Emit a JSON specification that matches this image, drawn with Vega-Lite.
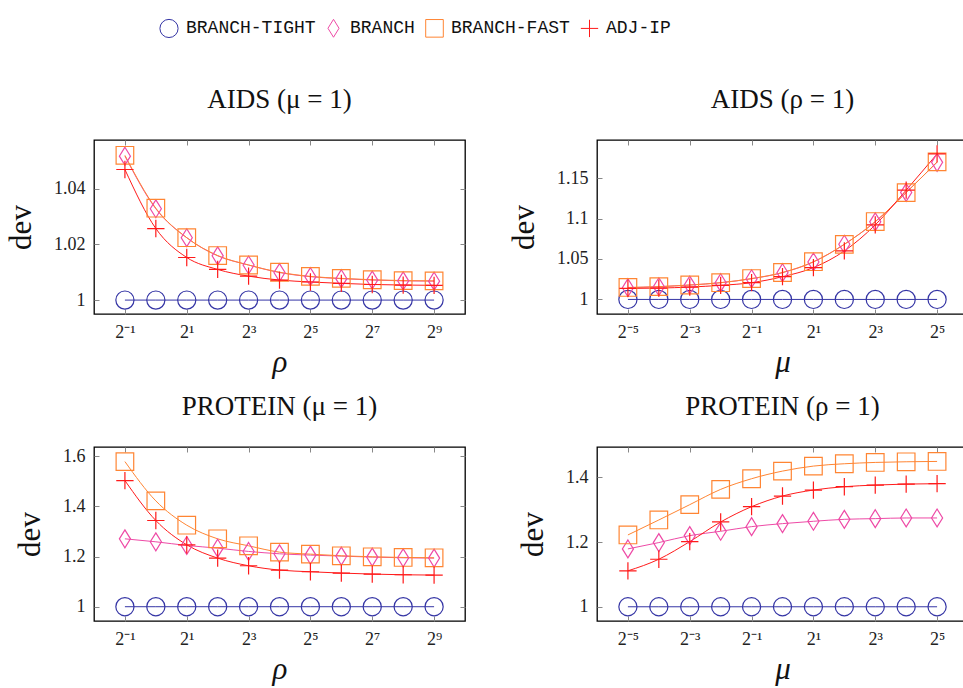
{
  "$schema": "https://vega.github.io/schema/vega-lite/v6.json",
  "padding": {"left": 4, "top": 18, "right": 5, "bottom": 5},
  "background": "white",
  "bounds": "flush",
  "columns": 2,
  "spacing": {"row": 133, "column": 132},
  "datasets": {
    "d": [
      {"panel":"am","series":"BRANCH-TIGHT","x":0.5,"y":1},{"panel":"am","series":"BRANCH-TIGHT","x":1,"y":1},{"panel":"am","series":"BRANCH-TIGHT","x":2,"y":1},{"panel":"am","series":"BRANCH-TIGHT","x":4,"y":1},{"panel":"am","series":"BRANCH-TIGHT","x":8,"y":1},{"panel":"am","series":"BRANCH-TIGHT","x":16,"y":1},{"panel":"am","series":"BRANCH-TIGHT","x":32,"y":1},{"panel":"am","series":"BRANCH-TIGHT","x":64,"y":1},{"panel":"am","series":"BRANCH-TIGHT","x":128,"y":1},{"panel":"am","series":"BRANCH-TIGHT","x":256,"y":1},{"panel":"am","series":"BRANCH-TIGHT","x":512,"y":1},
      {"panel":"am","series":"BRANCH","x":0.5,"y":1.0517},{"panel":"am","series":"BRANCH","x":1,"y":1.0328},{"panel":"am","series":"BRANCH","x":2,"y":1.0224},{"panel":"am","series":"BRANCH","x":4,"y":1.0159},{"panel":"am","series":"BRANCH","x":8,"y":1.0126},{"panel":"am","series":"BRANCH","x":16,"y":1.0099},{"panel":"am","series":"BRANCH","x":32,"y":1.0084},{"panel":"am","series":"BRANCH","x":64,"y":1.0077},{"panel":"am","series":"BRANCH","x":128,"y":1.0072},{"panel":"am","series":"BRANCH","x":256,"y":1.0069},{"panel":"am","series":"BRANCH","x":512,"y":1.0068},
      {"panel":"am","series":"BRANCH-FAST","x":0.5,"y":1.052},{"panel":"am","series":"BRANCH-FAST","x":1,"y":1.033},{"panel":"am","series":"BRANCH-FAST","x":2,"y":1.0224},{"panel":"am","series":"BRANCH-FAST","x":4,"y":1.016},{"panel":"am","series":"BRANCH-FAST","x":8,"y":1.0126},{"panel":"am","series":"BRANCH-FAST","x":16,"y":1.01},{"panel":"am","series":"BRANCH-FAST","x":32,"y":1.0085},{"panel":"am","series":"BRANCH-FAST","x":64,"y":1.0078},{"panel":"am","series":"BRANCH-FAST","x":128,"y":1.0073},{"panel":"am","series":"BRANCH-FAST","x":256,"y":1.007},{"panel":"am","series":"BRANCH-FAST","x":512,"y":1.0069},
      {"panel":"am","series":"ADJ-IP","x":0.5,"y":1.0469},{"panel":"am","series":"ADJ-IP","x":1,"y":1.0257},{"panel":"am","series":"ADJ-IP","x":2,"y":1.0153},{"panel":"am","series":"ADJ-IP","x":4,"y":1.011},{"panel":"am","series":"ADJ-IP","x":8,"y":1.0086},{"panel":"am","series":"ADJ-IP","x":16,"y":1.0072},{"panel":"am","series":"ADJ-IP","x":32,"y":1.0065},{"panel":"am","series":"ADJ-IP","x":64,"y":1.006},{"panel":"am","series":"ADJ-IP","x":128,"y":1.0056},{"panel":"am","series":"ADJ-IP","x":256,"y":1.0054},{"panel":"am","series":"ADJ-IP","x":512,"y":1.0053},

      {"panel":"ar","series":"BRANCH-TIGHT","x":0.03125,"y":1},{"panel":"ar","series":"BRANCH-TIGHT","x":0.0625,"y":1},{"panel":"ar","series":"BRANCH-TIGHT","x":0.125,"y":1},{"panel":"ar","series":"BRANCH-TIGHT","x":0.25,"y":1},{"panel":"ar","series":"BRANCH-TIGHT","x":0.5,"y":1},{"panel":"ar","series":"BRANCH-TIGHT","x":1,"y":1},{"panel":"ar","series":"BRANCH-TIGHT","x":2,"y":1},{"panel":"ar","series":"BRANCH-TIGHT","x":4,"y":1},{"panel":"ar","series":"BRANCH-TIGHT","x":8,"y":1},{"panel":"ar","series":"BRANCH-TIGHT","x":16,"y":1},{"panel":"ar","series":"BRANCH-TIGHT","x":32,"y":1},
      {"panel":"ar","series":"BRANCH","x":0.03125,"y":1.0145},{"panel":"ar","series":"BRANCH","x":0.0625,"y":1.0157},{"panel":"ar","series":"BRANCH","x":0.125,"y":1.0178},{"panel":"ar","series":"BRANCH","x":0.25,"y":1.0207},{"panel":"ar","series":"BRANCH","x":0.5,"y":1.0256},{"panel":"ar","series":"BRANCH","x":1,"y":1.0331},{"panel":"ar","series":"BRANCH","x":2,"y":1.0463},{"panel":"ar","series":"BRANCH","x":4,"y":1.0682},{"panel":"ar","series":"BRANCH","x":8,"y":1.0959},{"panel":"ar","series":"BRANCH","x":16,"y":1.1322},{"panel":"ar","series":"BRANCH","x":32,"y":1.1694},
      {"panel":"ar","series":"BRANCH-FAST","x":0.03125,"y":1.0148},{"panel":"ar","series":"BRANCH-FAST","x":0.0625,"y":1.0158},{"panel":"ar","series":"BRANCH-FAST","x":0.125,"y":1.0178},{"panel":"ar","series":"BRANCH-FAST","x":0.25,"y":1.0207},{"panel":"ar","series":"BRANCH-FAST","x":0.5,"y":1.0258},{"panel":"ar","series":"BRANCH-FAST","x":1,"y":1.0333},{"panel":"ar","series":"BRANCH-FAST","x":2,"y":1.0466},{"panel":"ar","series":"BRANCH-FAST","x":4,"y":1.068},{"panel":"ar","series":"BRANCH-FAST","x":8,"y":1.0962},{"panel":"ar","series":"BRANCH-FAST","x":16,"y":1.132},{"panel":"ar","series":"BRANCH-FAST","x":32,"y":1.17},
      {"panel":"ar","series":"ADJ-IP","x":0.03125,"y":1.0136},{"panel":"ar","series":"ADJ-IP","x":0.0625,"y":1.014},{"panel":"ar","series":"ADJ-IP","x":0.125,"y":1.0153},{"panel":"ar","series":"ADJ-IP","x":0.25,"y":1.0174},{"panel":"ar","series":"ADJ-IP","x":0.5,"y":1.0207},{"panel":"ar","series":"ADJ-IP","x":1,"y":1.0281},{"panel":"ar","series":"ADJ-IP","x":2,"y":1.0393},{"panel":"ar","series":"ADJ-IP","x":4,"y":1.0599},{"panel":"ar","series":"ADJ-IP","x":8,"y":1.0921},{"panel":"ar","series":"ADJ-IP","x":16,"y":1.1351},{"panel":"ar","series":"ADJ-IP","x":32,"y":1.1798},

      {"panel":"pm","series":"BRANCH-TIGHT","x":0.5,"y":1},{"panel":"pm","series":"BRANCH-TIGHT","x":1,"y":1},{"panel":"pm","series":"BRANCH-TIGHT","x":2,"y":1},{"panel":"pm","series":"BRANCH-TIGHT","x":4,"y":1},{"panel":"pm","series":"BRANCH-TIGHT","x":8,"y":1},{"panel":"pm","series":"BRANCH-TIGHT","x":16,"y":1},{"panel":"pm","series":"BRANCH-TIGHT","x":32,"y":1},{"panel":"pm","series":"BRANCH-TIGHT","x":64,"y":1},{"panel":"pm","series":"BRANCH-TIGHT","x":128,"y":1},{"panel":"pm","series":"BRANCH-TIGHT","x":256,"y":1},{"panel":"pm","series":"BRANCH-TIGHT","x":512,"y":1},
      {"panel":"pm","series":"BRANCH","x":0.5,"y":1.2708},{"panel":"pm","series":"BRANCH","x":1,"y":1.2589},{"panel":"pm","series":"BRANCH","x":2,"y":1.2443},{"panel":"pm","series":"BRANCH","x":4,"y":1.2336},{"panel":"pm","series":"BRANCH","x":8,"y":1.2204},{"panel":"pm","series":"BRANCH","x":16,"y":1.2111},{"panel":"pm","series":"BRANCH","x":32,"y":1.2058},{"panel":"pm","series":"BRANCH","x":64,"y":1.2018},{"panel":"pm","series":"BRANCH","x":128,"y":1.1978},{"panel":"pm","series":"BRANCH","x":256,"y":1.1951},{"panel":"pm","series":"BRANCH","x":512,"y":1.1938},
      {"panel":"pm","series":"BRANCH-FAST","x":0.5,"y":1.5788},{"panel":"pm","series":"BRANCH-FAST","x":1,"y":1.4221},{"panel":"pm","series":"BRANCH-FAST","x":2,"y":1.3252},{"panel":"pm","series":"BRANCH-FAST","x":4,"y":1.2708},{"panel":"pm","series":"BRANCH-FAST","x":8,"y":1.2429},{"panel":"pm","series":"BRANCH-FAST","x":16,"y":1.2177},{"panel":"pm","series":"BRANCH-FAST","x":32,"y":1.2097},{"panel":"pm","series":"BRANCH-FAST","x":64,"y":1.2031},{"panel":"pm","series":"BRANCH-FAST","x":128,"y":1.1991},{"panel":"pm","series":"BRANCH-FAST","x":256,"y":1.1965},{"panel":"pm","series":"BRANCH-FAST","x":512,"y":1.1951},
      {"panel":"pm","series":"ADJ-IP","x":0.5,"y":1.5031},{"panel":"pm","series":"ADJ-IP","x":1,"y":1.3438},{"panel":"pm","series":"ADJ-IP","x":2,"y":1.2469},{"panel":"pm","series":"ADJ-IP","x":4,"y":1.1938},{"panel":"pm","series":"ADJ-IP","x":8,"y":1.1633},{"panel":"pm","series":"ADJ-IP","x":16,"y":1.146},{"panel":"pm","series":"ADJ-IP","x":32,"y":1.1394},{"panel":"pm","series":"ADJ-IP","x":64,"y":1.1341},{"panel":"pm","series":"ADJ-IP","x":128,"y":1.1301},{"panel":"pm","series":"ADJ-IP","x":256,"y":1.1274},{"panel":"pm","series":"ADJ-IP","x":512,"y":1.1261},

      {"panel":"pr","series":"BRANCH-TIGHT","x":0.03125,"y":1},{"panel":"pr","series":"BRANCH-TIGHT","x":0.0625,"y":1},{"panel":"pr","series":"BRANCH-TIGHT","x":0.125,"y":1},{"panel":"pr","series":"BRANCH-TIGHT","x":0.25,"y":1},{"panel":"pr","series":"BRANCH-TIGHT","x":0.5,"y":1},{"panel":"pr","series":"BRANCH-TIGHT","x":1,"y":1},{"panel":"pr","series":"BRANCH-TIGHT","x":2,"y":1},{"panel":"pr","series":"BRANCH-TIGHT","x":4,"y":1},{"panel":"pr","series":"BRANCH-TIGHT","x":8,"y":1},{"panel":"pr","series":"BRANCH-TIGHT","x":16,"y":1},{"panel":"pr","series":"BRANCH-TIGHT","x":32,"y":1},
      {"panel":"pr","series":"BRANCH","x":0.03125,"y":1.1789},{"panel":"pr","series":"BRANCH","x":0.0625,"y":1.1985},{"panel":"pr","series":"BRANCH","x":0.125,"y":1.2201},{"panel":"pr","series":"BRANCH","x":0.25,"y":1.2334},{"panel":"pr","series":"BRANCH","x":0.5,"y":1.2478},{"panel":"pr","series":"BRANCH","x":1,"y":1.2571},{"panel":"pr","series":"BRANCH","x":2,"y":1.2643},{"panel":"pr","series":"BRANCH","x":4,"y":1.2704},{"panel":"pr","series":"BRANCH","x":8,"y":1.2725},{"panel":"pr","series":"BRANCH","x":16,"y":1.2746},{"panel":"pr","series":"BRANCH","x":32,"y":1.2746},
      {"panel":"pr","series":"BRANCH-FAST","x":0.03125,"y":1.2221},{"panel":"pr","series":"BRANCH-FAST","x":0.0625,"y":1.2684},{"panel":"pr","series":"BRANCH-FAST","x":0.125,"y":1.3157},{"panel":"pr","series":"BRANCH-FAST","x":0.25,"y":1.363},{"panel":"pr","series":"BRANCH-FAST","x":0.5,"y":1.3959},{"panel":"pr","series":"BRANCH-FAST","x":1,"y":1.4195},{"panel":"pr","series":"BRANCH-FAST","x":2,"y":1.435},{"panel":"pr","series":"BRANCH-FAST","x":4,"y":1.4422},{"panel":"pr","series":"BRANCH-FAST","x":8,"y":1.4463},{"panel":"pr","series":"BRANCH-FAST","x":16,"y":1.4483},{"panel":"pr","series":"BRANCH-FAST","x":32,"y":1.4494},
      {"panel":"pr","series":"ADJ-IP","x":0.03125,"y":1.1111},{"panel":"pr","series":"ADJ-IP","x":0.0625,"y":1.147},{"panel":"pr","series":"ADJ-IP","x":0.125,"y":1.2015},{"panel":"pr","series":"ADJ-IP","x":0.25,"y":1.2622},{"panel":"pr","series":"ADJ-IP","x":0.5,"y":1.3095},{"panel":"pr","series":"ADJ-IP","x":1,"y":1.3424},{"panel":"pr","series":"ADJ-IP","x":2,"y":1.3609},{"panel":"pr","series":"ADJ-IP","x":4,"y":1.3712},{"panel":"pr","series":"ADJ-IP","x":8,"y":1.3763},{"panel":"pr","series":"ADJ-IP","x":16,"y":1.3794},{"panel":"pr","series":"ADJ-IP","x":32,"y":1.3805}
    ]
  },
  "data": {"name": "d"},
  "concat": [
    {
      "title": "AIDS (μ = 1)",
      "width": 371, "height": 174,
      "transform": [{"filter": "datum.panel == 'am'"}],
      "layer": [
        {"mark": {"type": "line", "interpolate": "monotone", "strokeWidth": 1},
         "encoding": {
           "x": {"field": "x", "type": "quantitative", "scale": {"type": "log", "base": 2, "domain": [0.25, 1024], "nice": false}, "axis": {"values": [0.5, 2, 8, 32, 128, 512], "title": "ρ", "labelExpr": "datum.value < 0.04 ? '2⁻⁵' : datum.value < 0.2 ? '2⁻³' : datum.value < 0.7 ? '2⁻¹' : datum.value < 3 ? '2¹' : datum.value < 10 ? '2³' : datum.value < 40 ? '2⁵' : datum.value < 200 ? '2⁷' : '2⁹'"}},
           "y": {"field": "y", "type": "quantitative", "scale": {"domain": [0.995, 1.0575], "nice": false, "zero": false}, "axis": {"values": [1, 1.02, 1.04], "format": "~g", "title": "dev"}},
           "color": {"field": "series", "type": "nominal", "scale": {"domain": ["BRANCH-TIGHT", "BRANCH", "BRANCH-FAST", "ADJ-IP"], "range": ["#3535a5", "#ee4aa6", "#ff8533", "#ff1a1a"]}}
         }},
        {"mark": {"type": "point", "filled": false, "strokeWidth": 1.2, "opacity": 1},
         "encoding": {
           "x": {"field": "x", "type": "quantitative", "axis": null},
           "y": {"field": "y", "type": "quantitative", "axis": null},
           "color": {"field": "series", "type": "nominal", "legend": {"orient": "none", "legendX": 65, "legendY": -122, "direction": "horizontal", "title": null}},
           "shape": {"field": "series", "type": "nominal", "scale": {"domain": ["BRANCH-TIGHT", "BRANCH", "BRANCH-FAST", "ADJ-IP"], "range": ["circle", "M0,-1L0.62,0L0,1L-0.62,0Z", "square", "M-1,0H1M0,-1V1"]}, "legend": {"orient": "none", "legendX": 65, "legendY": -122, "direction": "horizontal", "title": null}},
           "size": {"field": "series", "type": "nominal", "scale": {"domain": ["BRANCH-TIGHT", "BRANCH", "BRANCH-FAST", "ADJ-IP"], "range": [330, 300, 290, 190]}, "legend": null}
         }},
        {"mark": {"type": "point", "opacity": 0},
         "encoding": {
           "x": {"field": "x", "type": "quantitative", "axis": {"orient": "top", "values": [0.5, 2, 8, 32, 128, 512], "labels": false, "title": null}},
           "y": {"field": "y", "type": "quantitative", "axis": {"orient": "right", "values": [1, 1.02, 1.04], "labels": false, "title": null}}
         }}
      ],
      "resolve": {"axis": {"x": "independent", "y": "independent"}}
    },
    {
      "title": "AIDS (ρ = 1)",
      "width": 371, "height": 174,
      "transform": [{"filter": "datum.panel == 'ar'"}],
      "layer": [
        {"mark": {"type": "line", "interpolate": "monotone", "strokeWidth": 1},
         "encoding": {
           "x": {"field": "x", "type": "quantitative", "scale": {"type": "log", "base": 2, "domain": [0.015625, 64], "nice": false}, "axis": {"values": [0.03125, 0.125, 0.5, 2, 8, 32], "title": "μ", "labelExpr": "datum.value < 0.04 ? '2⁻⁵' : datum.value < 0.2 ? '2⁻³' : datum.value < 0.7 ? '2⁻¹' : datum.value < 3 ? '2¹' : datum.value < 10 ? '2³' : datum.value < 40 ? '2⁵' : datum.value < 200 ? '2⁷' : '2⁹'"}},
           "y": {"field": "y", "type": "quantitative", "scale": {"domain": [0.982, 1.197], "nice": false, "zero": false}, "axis": {"values": [1, 1.05, 1.1, 1.15], "format": "~g", "title": "dev"}},
           "color": {"field": "series", "type": "nominal"}
         }},
        {"mark": {"type": "point", "filled": false, "strokeWidth": 1.2, "opacity": 1},
         "encoding": {
           "x": {"field": "x", "type": "quantitative", "axis": null},
           "y": {"field": "y", "type": "quantitative", "axis": null},
           "color": {"field": "series", "type": "nominal", "legend": {"orient": "none", "legendX": 65, "legendY": -122, "direction": "horizontal", "title": null}},
           "shape": {"field": "series", "type": "nominal", "legend": {"orient": "none", "legendX": 65, "legendY": -122, "direction": "horizontal", "title": null}},
           "size": {"field": "series", "type": "nominal", "legend": null}
         }},
        {"mark": {"type": "point", "opacity": 0},
         "encoding": {
           "x": {"field": "x", "type": "quantitative", "axis": {"orient": "top", "values": [0.03125, 0.125, 0.5, 2, 8, 32], "labels": false, "title": null}},
           "y": {"field": "y", "type": "quantitative", "axis": {"orient": "right", "values": [1, 1.05, 1.1, 1.15], "labels": false, "title": null}}
         }}
      ],
      "resolve": {"axis": {"x": "independent", "y": "independent"}}
    },
    {
      "title": "PROTEIN (μ = 1)",
      "width": 371, "height": 174,
      "transform": [{"filter": "datum.panel == 'pm'"}],
      "layer": [
        {"mark": {"type": "line", "interpolate": "monotone", "strokeWidth": 1},
         "encoding": {
           "x": {"field": "x", "type": "quantitative", "scale": {"type": "log", "base": 2, "domain": [0.25, 1024], "nice": false}, "axis": {"values": [0.5, 2, 8, 32, 128, 512], "title": "ρ", "labelExpr": "datum.value < 0.04 ? '2⁻⁵' : datum.value < 0.2 ? '2⁻³' : datum.value < 0.7 ? '2⁻¹' : datum.value < 3 ? '2¹' : datum.value < 10 ? '2³' : datum.value < 40 ? '2⁵' : datum.value < 200 ? '2⁷' : '2⁹'"}},
           "y": {"field": "y", "type": "quantitative", "scale": {"domain": [0.943, 1.637], "nice": false, "zero": false}, "axis": {"values": [1, 1.2, 1.4, 1.6], "format": "~g", "title": "dev"}},
           "color": {"field": "series", "type": "nominal"}
         }},
        {"mark": {"type": "point", "filled": false, "strokeWidth": 1.2, "opacity": 1},
         "encoding": {
           "x": {"field": "x", "type": "quantitative", "axis": null},
           "y": {"field": "y", "type": "quantitative", "axis": null},
           "color": {"field": "series", "type": "nominal", "legend": {"orient": "none", "legendX": 65, "legendY": -122, "direction": "horizontal", "title": null}},
           "shape": {"field": "series", "type": "nominal", "legend": {"orient": "none", "legendX": 65, "legendY": -122, "direction": "horizontal", "title": null}},
           "size": {"field": "series", "type": "nominal", "legend": null}
         }},
        {"mark": {"type": "point", "opacity": 0},
         "encoding": {
           "x": {"field": "x", "type": "quantitative", "axis": {"orient": "top", "values": [0.5, 2, 8, 32, 128, 512], "labels": false, "title": null}},
           "y": {"field": "y", "type": "quantitative", "axis": {"orient": "right", "values": [1, 1.2, 1.4, 1.6], "labels": false, "title": null}}
         }}
      ],
      "resolve": {"axis": {"x": "independent", "y": "independent"}}
    },
    {
      "title": "PROTEIN (ρ = 1)",
      "width": 371, "height": 174,
      "transform": [{"filter": "datum.panel == 'pr'"}],
      "layer": [
        {"mark": {"type": "line", "interpolate": "monotone", "strokeWidth": 1},
         "encoding": {
           "x": {"field": "x", "type": "quantitative", "scale": {"type": "log", "base": 2, "domain": [0.015625, 64], "nice": false}, "axis": {"values": [0.03125, 0.125, 0.5, 2, 8, 32], "title": "μ", "labelExpr": "datum.value < 0.04 ? '2⁻⁵' : datum.value < 0.2 ? '2⁻³' : datum.value < 0.7 ? '2⁻¹' : datum.value < 3 ? '2¹' : datum.value < 10 ? '2³' : datum.value < 40 ? '2⁵' : datum.value < 200 ? '2⁷' : '2⁹'"}},
           "y": {"field": "y", "type": "quantitative", "scale": {"domain": [0.956, 1.494], "nice": false, "zero": false}, "axis": {"values": [1, 1.2, 1.4], "format": "~g", "title": "dev"}},
           "color": {"field": "series", "type": "nominal"}
         }},
        {"mark": {"type": "point", "filled": false, "strokeWidth": 1.2, "opacity": 1},
         "encoding": {
           "x": {"field": "x", "type": "quantitative", "axis": null},
           "y": {"field": "y", "type": "quantitative", "axis": null},
           "color": {"field": "series", "type": "nominal", "legend": {"orient": "none", "legendX": 65, "legendY": -122, "direction": "horizontal", "title": null}},
           "shape": {"field": "series", "type": "nominal", "legend": {"orient": "none", "legendX": 65, "legendY": -122, "direction": "horizontal", "title": null}},
           "size": {"field": "series", "type": "nominal", "legend": null}
         }},
        {"mark": {"type": "point", "opacity": 0},
         "encoding": {
           "x": {"field": "x", "type": "quantitative", "axis": {"orient": "top", "values": [0.03125, 0.125, 0.5, 2, 8, 32], "labels": false, "title": null}},
           "y": {"field": "y", "type": "quantitative", "axis": {"orient": "right", "values": [1, 1.2, 1.4], "labels": false, "title": null}}
         }}
      ],
      "resolve": {"axis": {"x": "independent", "y": "independent"}}
    }
  ],
  "config": {
    "view": {"stroke": "black", "strokeWidth": 1.3},
    "axis": {
      "grid": false, "domain": false,
      "labelFont": "Liberation Serif", "labelFontSize": 18, "labelColor": "#222",
      "titleFont": "Liberation Serif", "titleFontSize": 31, "titleFontWeight": "normal", "titleColor": "#111",
      "tickColor": "#888", "tickSize": -5, "tickWidth": 1
    },
    "axisX": {"labelPadding": 14, "titlePadding": 6, "titleFontStyle": "italic"},
    "axisY": {"labelPadding": 14, "titlePadding": 16},
    "title": {"font": "Liberation Serif", "fontSize": 27, "fontWeight": "normal", "color": "#111", "offset": 26},
    "legend": {
      "labelFont": "Liberation Mono", "labelFontSize": 18, "labelColor": "#111",
      "symbolSize": 170, "symbolStrokeWidth": 1, "columnPadding": 8, "labelOffset": 7
    }
  }
}
